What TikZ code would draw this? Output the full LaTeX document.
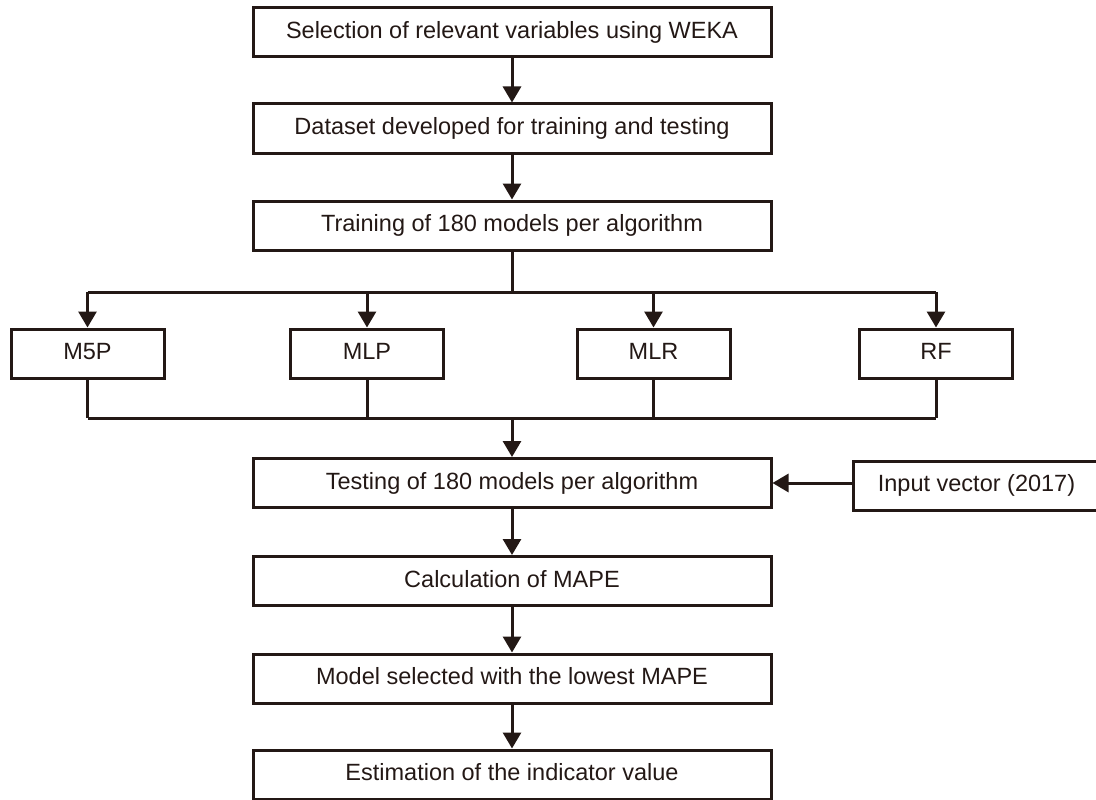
\documentclass[tikz,border=0pt]{standalone}
\usepackage{fontspec}
\setmainfont{Liberation Sans}
\usetikzlibrary{arrows.meta}
\definecolor{ink}{RGB}{35,24,21}
\begin{document}
\begin{tikzpicture}[x=1pt,y=-1pt,
  box/.style={draw=ink,line width=3pt,rectangle,inner sep=0pt,minimum height=49pt,
    text=ink,font=\fontsize{23.5pt}{26pt}\selectfont,text height=17pt,text depth=5pt},
  wide/.style={box,minimum width=518pt},
  small/.style={box,minimum width=153pt},
  line/.style={draw=ink,line width=3pt},
  arr/.style={line,-{Triangle[width=18pt,length=16pt]}}]
\useasboundingbox (0,0) rectangle (1096,800);
\node[wide] (b1) at (512,32.5) {Selection of relevant variables using WEKA};
\node[wide] (b2) at (512,128.5) {Dataset developed for training and testing};
\node[wide] (b3) at (512,225.5) {Training of 180 models per algorithm};
\node[small] (m5p) at (87.5,353.5) {M5P};
\node[small] (mlp) at (367,353.5) {MLP};
\node[small] (mlr) at (653.5,353.5) {MLR};
\node[small] (rf) at (936,353.5) {RF};
\node[wide] (test) at (512,483) {Testing of 180 models per algorithm};
\node[box,minimum width=250pt,anchor=west] (inp) at (852,485.5) {\hspace*{-4pt}Input vector (2017)};
\node[wide] (calc) at (512,581) {Calculation of MAPE};
\node[wide] (sel) at (512,678.5) {Model selected with the lowest MAPE};
\node[wide] (est) at (512,774.5) {Estimation of the indicator value};
\coordinate (split) at (512,292);
\coordinate (join) at (512,418);
\draw[arr] (b1) -- (b2);
\draw[arr] (b2) -- (b3);
\draw[line] (b3) -- (split);
\draw[line] (split -| m5p) -- (split -| rf);
\foreach \n in {m5p,mlp,mlr,rf}{
  \draw[arr] (split -| \n) -- (\n);
  \draw[line] (\n) -- (join -| \n);
}
\draw[line] (join -| m5p) -- (join -| rf);
\draw[arr] (join) -- (test);
\draw[arr] (inp.west |- test.east) -- (test.east);
\draw[arr] (test) -- (calc);
\draw[arr] (calc) -- (sel);
\draw[arr] (sel) -- (est);
\end{tikzpicture}
\end{document}
